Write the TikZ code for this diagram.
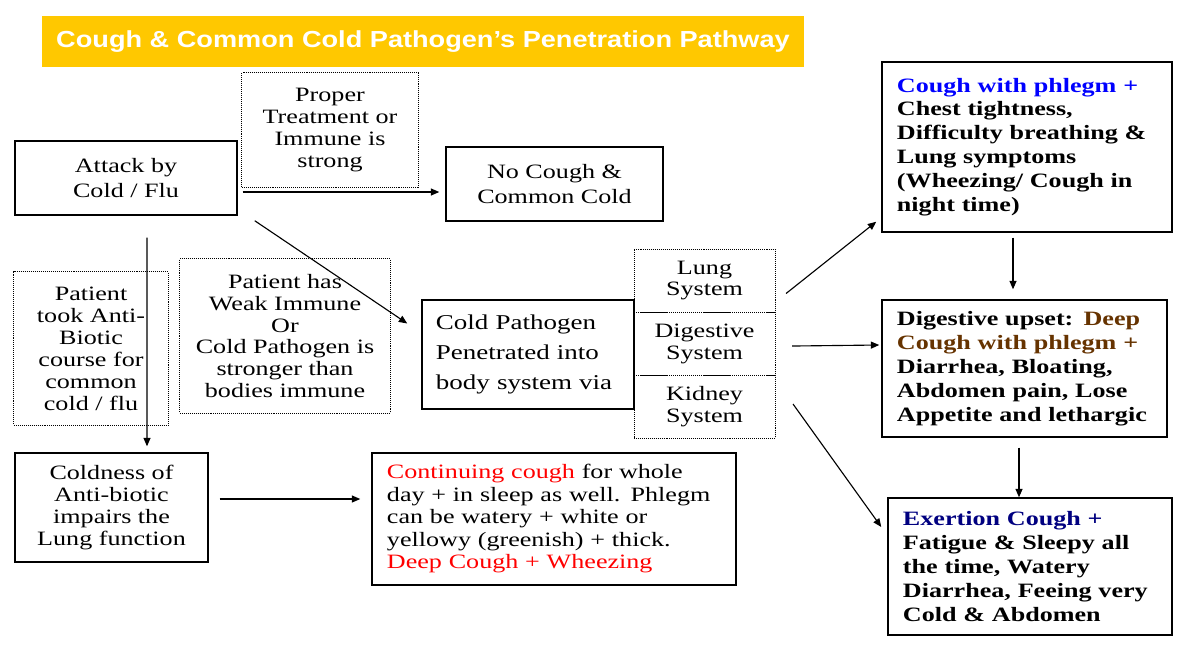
\documentclass[tikz,border=0pt]{standalone}
\usepackage{fontspec}
\setmainfont{Liberation Serif}
\newfontfamily\nodefont[FakeStretch=1.28]{Liberation Serif}
\newfontfamily\headfont[FakeStretch=1.17]{Liberation Sans}
\usepackage{xcolor}
\usetikzlibrary{positioning,arrows.meta,calc}

\definecolor{headbg}{RGB}{255,200,0}
\definecolor{txtred}{RGB}{255,0,0}
\definecolor{txtblue}{RGB}{0,0,255}
\definecolor{txtbrown}{RGB}{102,51,0}
\definecolor{txtnavy}{RGB}{0,0,128}

\begin{document}
\begin{tikzpicture}[
        x=0.025cm, y=-0.025cm,
        font=\nodefont\fontsize{14.5}{15.6}\selectfont,
        sbox/.style={draw=black, line width=1pt, inner sep=0pt, align=center},
        dbox/.style={draw=black, line width=0.7pt, dash pattern=on 0.7pt off 0.7pt,
                     inner sep=0pt, align=center},
        lbox/.style={sbox, align=left, inner xsep=0.375cm},
        sympt/.style={lbox, font=\nodefont\bfseries\fontsize{14.5}{17}\selectfont},
        sys/.style={dbox, outer sep=0pt, minimum width=3.525cm, minimum height=1.575cm},
        arr/.style={-{Triangle[length=6pt,width=5pt]}, line width=0.8pt}
    ]
    \useasboundingbox[fill=white] (0,0) rectangle (1194,653);

    % ---- Title ----
    \node[fill=headbg, minimum width=19.025cm, minimum height=1.275cm, text=white,
          font=\headfont\bfseries\fontsize{16.5}{18}\selectfont] (title) at (423,41.5)
          {Cough \& Common Cold Pathogen’s Penetration Pathway};

    % ---- Left side ----
    \node[sbox, minimum width=5.55cm, minimum height=1.85cm,
          font=\nodefont\fontsize{14.5}{17.8}\selectfont] (attack) at (126,178) {Attack by\\Cold / Flu};
    \node[dbox, minimum width=4.4cm, minimum height=2.85cm] (proper) at (330,130)
          {Proper\\Treatment or\\Immune is\\strong};
    \node[sbox, minimum width=5.425cm, minimum height=1.85cm,
          font=\nodefont\fontsize{14.5}{17.8}\selectfont] (nocough) at (554.5,184) {No Cough \&\\Common Cold};
    \node[dbox, minimum width=3.85cm, minimum height=3.825cm] (antibio) at (91,348.5)
          {Patient\\took Anti-\\Biotic\\course for\\common\\cold / flu};
    \node[dbox, minimum width=5.25cm, minimum height=3.85cm] (weak) at (285,336)
          {Patient has\\Weak Immune\\Or\\Cold Pathogen is\\stronger than\\bodies immune};
    \node[sbox, minimum width=4.825cm, minimum height=2.725cm] (coldness) at (111.5,507.5)
          {Coldness of\\Anti-biotic\\impairs the\\Lung function};

    % ---- Middle ----
    \node[lbox, text width=4.6cm, inner xsep=0.35cm, minimum height=2.725cm,
          font=\nodefont\fontsize{15}{21.3}\selectfont] (pathogen) at (528,354.5)
          {Cold Pathogen\\Penetrated into\\body system via};
    \node[sys, anchor=north west] (lung) at (634,249) {Lung\\System};
    \node[sys, below=0pt of lung] (digsys) {Digestive\\System};
    \node[sys, below=0pt of digsys] (kidney) {Kidney\\System};
    \node[lbox, text width=8.35cm, minimum height=3.3cm,
          font=\nodefont\fontsize{14.5}{16}\selectfont] (contin) at (554,519)
          {{\color{txtred}Continuing cough} for whole\\day + in sleep as well. Phlegm\\can be watery + white or\\yellowy (greenish) + thick.\\{\color{txtred}Deep Cough + Wheezing}};

    % ---- Right side ----
    \node[sympt, text width=6.5cm, minimum height=4.25cm] (cough) at (1027,147)
          {{\color{txtblue}Cough with phlegm +}\\Chest tightness,\\Difficulty breathing \&\\Lung symptoms\\(Wheezing/ Cough in\\night time)};
    \node[sympt, text width=6.375cm, minimum height=3.425cm] (digup) at (1024.5,368.5)
          {Digestive upset: {\color{txtbrown}Deep}\\{\color{txtbrown}Cough with phlegm +}\\Diarrhea, Bloating,\\Abdomen pain, Lose\\Appetite and lethargic};
    \node[sympt, text width=6.35cm, minimum height=3.425cm] (exert) at (1030,566.5)
          {{\color{txtnavy}Exertion Cough +}\\Fatigue \& Sleepy all\\the time, Watery\\Diarrhea, Feeing very\\Cold \& Abdomen};

    % ---- Arrows ----
    \draw[arr] ($(attack.east)+(5,14)$) -- ($(nocough.west)+(-6,8)$);
    \draw[arr] ($(attack.south east)+(17,5)$) -- ($(pathogen.west)+(-14,-31)$);
    \draw[arr] ($(attack.south)+(21,22)$) -- ($(coldness.north)+(35.5,-6)$);
    \draw[arr] ($(coldness.east)+(11,-8.5)$) -- ($(contin.west)+(-11,-20)$);
    \draw[arr] ($(lung.east)+(11,13)$) -- ($(cough.south west)+(-5,-11)$);
    \draw[arr] ($(digsys.east)+(17,2.5)$) -- ($(digup.west)+(-2,-23.5)$);
    \draw[arr] ($(kidney.east)+(18,-2.5)$) -- ($(exert.west)+(-6,-39.5)$);
    \draw[arr] ($(cough.south)+(-14,5)$) -- ($(digup.north)+(-11.5,-10)$);
    \draw[arr] ($(digup.south)+(-5.5,10)$) -- ($(exert.north)+(-11,0)$);
\end{tikzpicture}
\end{document}
